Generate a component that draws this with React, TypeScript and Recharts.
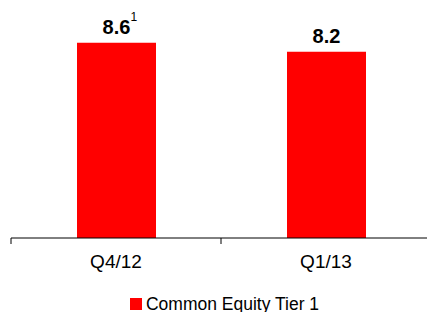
import { Bar, BarChart, LabelList, XAxis, YAxis } from 'recharts'

const quarters = ['Q4/12', 'Q1/13']
const cet1 = [8.6, 8.2]
const footnotes = ['1', '']
const seriesName = 'Common Equity Tier 1'

const data = quarters.map((q, i) => ({ quarter: q, cet1: cet1[i], note: footnotes[i] }))

const FONT = '"Liberation Sans", Arial, sans-serif'

function QuarterTick(props: any) {
  const { x, y, payload } = props
  const half = payload?.offset ?? 105
  return (
    <g>
      <line x1={x - half} x2={x - half} y1={y} y2={y + 6} stroke="#000" strokeWidth={1} />
      <text x={x} y={y + 30} textAnchor="middle" fontSize={19} fontFamily={FONT} fill="#000">
        {payload.value}
      </text>
    </g>
  )
}

function ValueLabel(props: any) {
  const { x, y, width, value, index } = props
  const cx = x + width / 2
  const note = footnotes[index]
  return (
    <g>
      <text x={cx} y={y - 9} textAnchor="middle" fontSize={20} fontWeight="bold" fontFamily={FONT} fill="#000">
        {value.toFixed(1)}
      </text>
      {note && (
        <text x={cx + 14} y={y - 22} fontSize={12} fontFamily={FONT} fill="#000">
          {note}
        </text>
      )}
    </g>
  )
}

export default function App() {
  return (
    <div style={{ position: 'absolute', left: 0, top: 0, width: 427, height: 312, overflow: 'hidden', background: '#fff' }}>
      <BarChart width={427} height={312} data={data} margin={{ top: 11, right: -4, bottom: 44, left: 11 }} barSize={79}>
        <YAxis hide domain={[0, 10]} />
        <XAxis
          dataKey="quarter"
          height={30}
          axisLine={{ stroke: '#000', strokeWidth: 1 }}
          tickLine={false}
          tickSize={0}
          tickMargin={0}
          tick={<QuarterTick />}
          interval={0}
        />
        <Bar dataKey="cet1" fill="#ff0000" isAnimationActive={false}>
          <LabelList dataKey="cet1" content={<ValueLabel />} />
        </Bar>
      </BarChart>
      <div style={{ position: 'absolute', left: 0, width: 427, top: 294, height: 20, display: 'flex', alignItems: 'center', justifyContent: 'center', paddingLeft: 22, boxSizing: 'border-box', fontFamily: FONT, fontSize: 17.5, color: '#000', whiteSpace: 'nowrap' }}>
        <span style={{ width: 12, height: 12, background: '#ff0000', marginRight: 4, display: 'inline-block' }} />
        {seriesName}
      </div>
    </div>
  )
}
